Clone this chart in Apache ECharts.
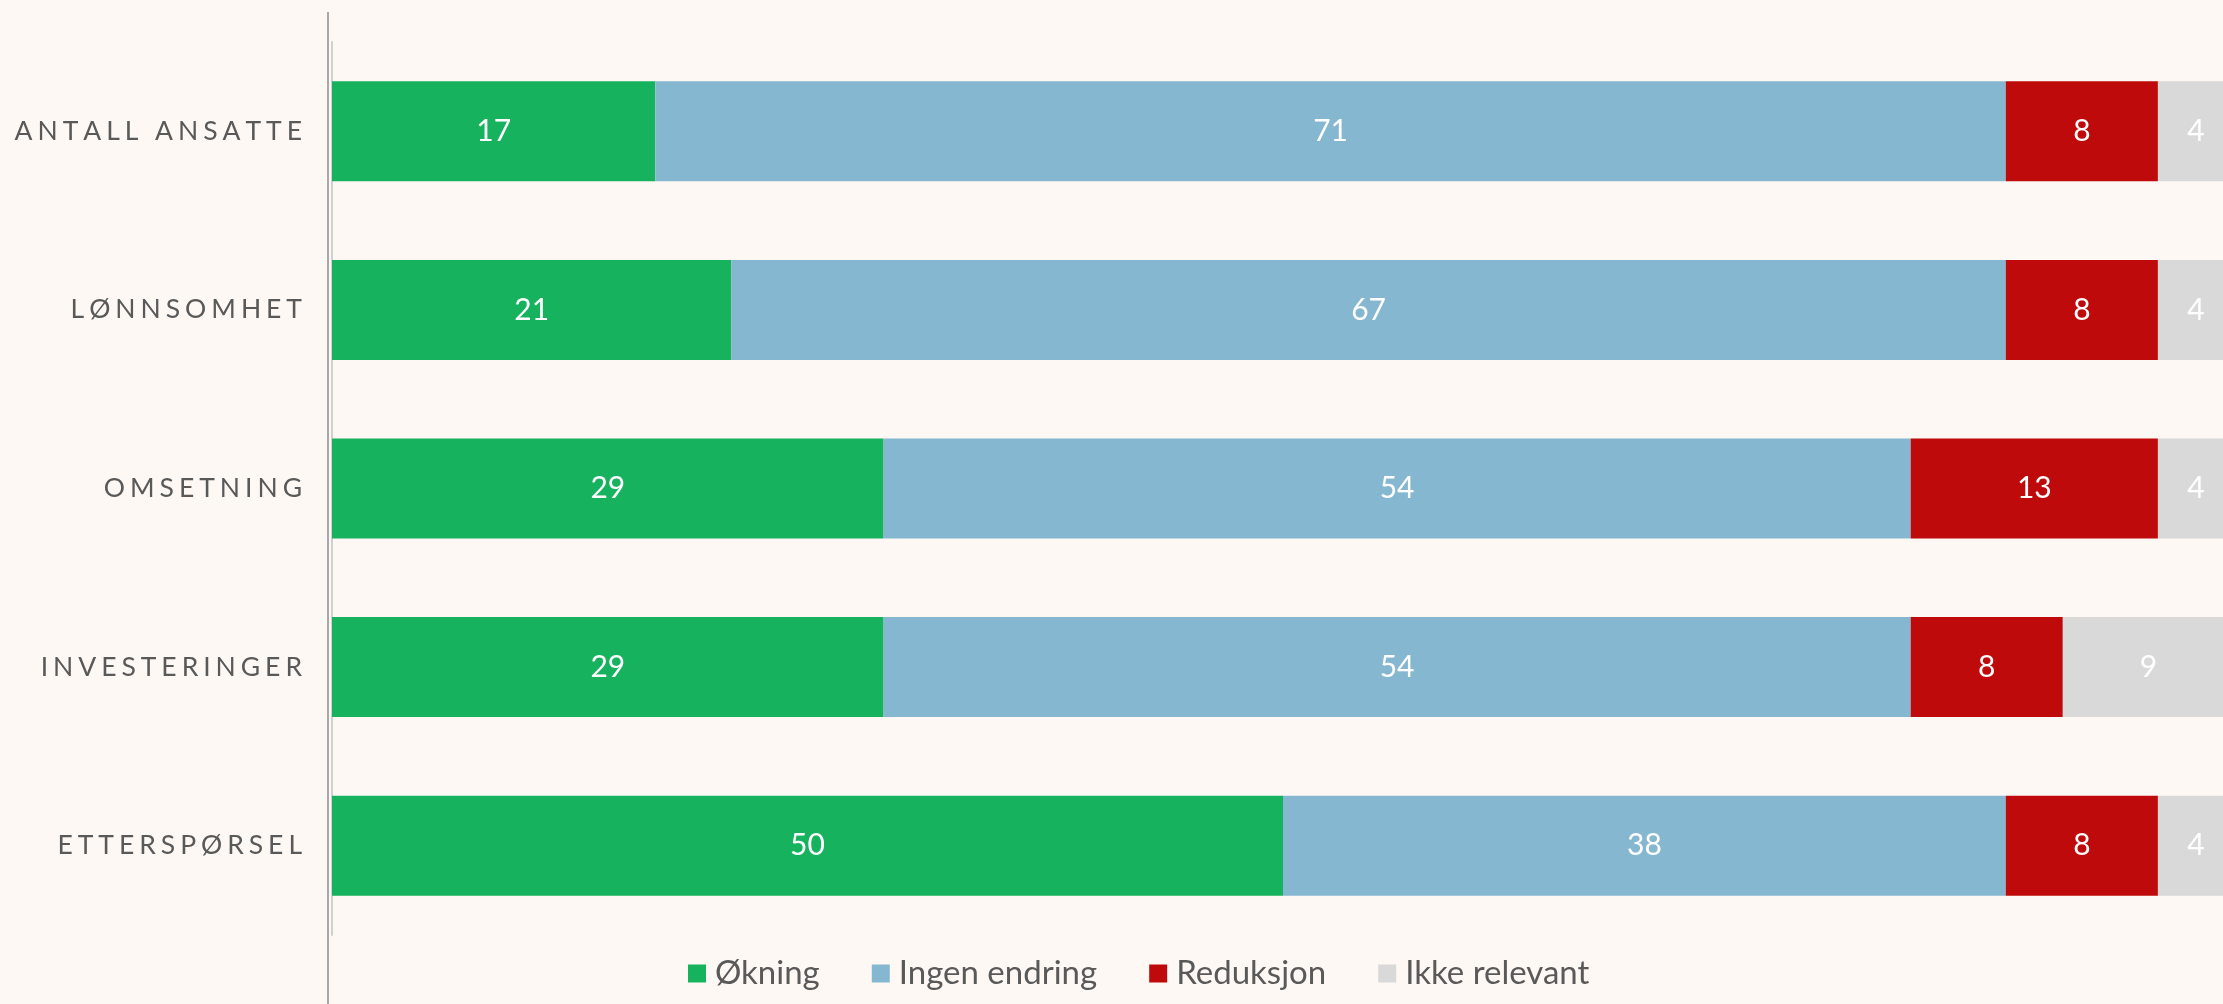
<!DOCTYPE html>
<html>
<head>
<meta charset="utf-8">
<script src="https://cdn.jsdelivr.net/npm/echarts@6/dist/echarts.min.js"></script>
<style>
  html, body { margin: 0; padding: 0; background: #fdf8f4; }
  #chart { width: 2223px; height: 1004px; }
</style>
</head>
<body>
<div id="chart"></div>
<script>
// kategorier, øverst til nederst
const categories = ['ANTALL ANSATTE', 'LØNNSOMHET', 'OMSETNING', 'INVESTERINGER', 'ETTERSPØRSEL'];

const okning = [17, 21, 29, 29, 50];
const ingenEndring = [71, 67, 54, 54, 38];
const reduksjon = [8, 8, 13, 8, 8];
const ikkeRelevant = [4, 4, 4, 9, 4];

const seriesNames = ['Økning', 'Ingen endring', 'Reduksjon', 'Ikke relevant'];
const seriesColors = ['#16b25e', '#86b7d0', '#be0a0a', '#d9d9d9'];

const chart = echarts.init(document.getElementById('chart'));

// sperret skrift på kategoriene
const spaced = s => s.split('').join('\u2009\u200a');

const makeSeries = (name, data, color) => ({
  name,
  type: 'bar',
  stack: 'total',
  barWidth: 100,
  data,
  itemStyle: { color },
  label: {
    show: true,
    position: 'inside',
    color: '#ffffff',
    fontFamily: 'Lato',
    fontSize: 30,
  },
});

const option = {
  backgroundColor: '#fdf8f4',
  animation: false,
  grid: {
    left: 332,
    top: 42,
    width: 1902,
    height: 893,
    outerBoundsMode: 'none',
  },
  legend: {
    left: 683,
    top: 952,
    itemWidth: 18,
    itemHeight: 18,
    itemGap: 52,
    icon: 'rect',
    textStyle: {
      color: '#595959',
      fontFamily: 'Lato',
      fontSize: 33,
      padding: [0, 0, 0, 4],
    },
    data: seriesNames,
  },
  xAxis: {
    type: 'value',
    min: 0,
    max: 100,
    show: false,
  },
  yAxis: {
    type: 'category',
    inverse: true,
    data: categories,
    axisLine: { show: true, lineStyle: { color: '#d0d0d0', width: 2 } },
    axisTick: { show: false },
    axisLabel: {
      margin: 30,
      color: '#595959',
      fontFamily: 'Lato',
      fontSize: 26.5,
      formatter: spaced,
    },
  },
  graphic: [
    {
      type: 'line',
      shape: { x1: 328, y1: 12, x2: 328, y2: 1004 },
      style: { stroke: '#a8a8a8', lineWidth: 2 },
    },
  ],
  series: [
    makeSeries(seriesNames[0], okning, seriesColors[0]),
    makeSeries(seriesNames[1], ingenEndring, seriesColors[1]),
    makeSeries(seriesNames[2], reduksjon, seriesColors[2]),
    makeSeries(seriesNames[3], ikkeRelevant, seriesColors[3]),
  ],
};

chart.setOption(option);
</script>
</body>
</html>
